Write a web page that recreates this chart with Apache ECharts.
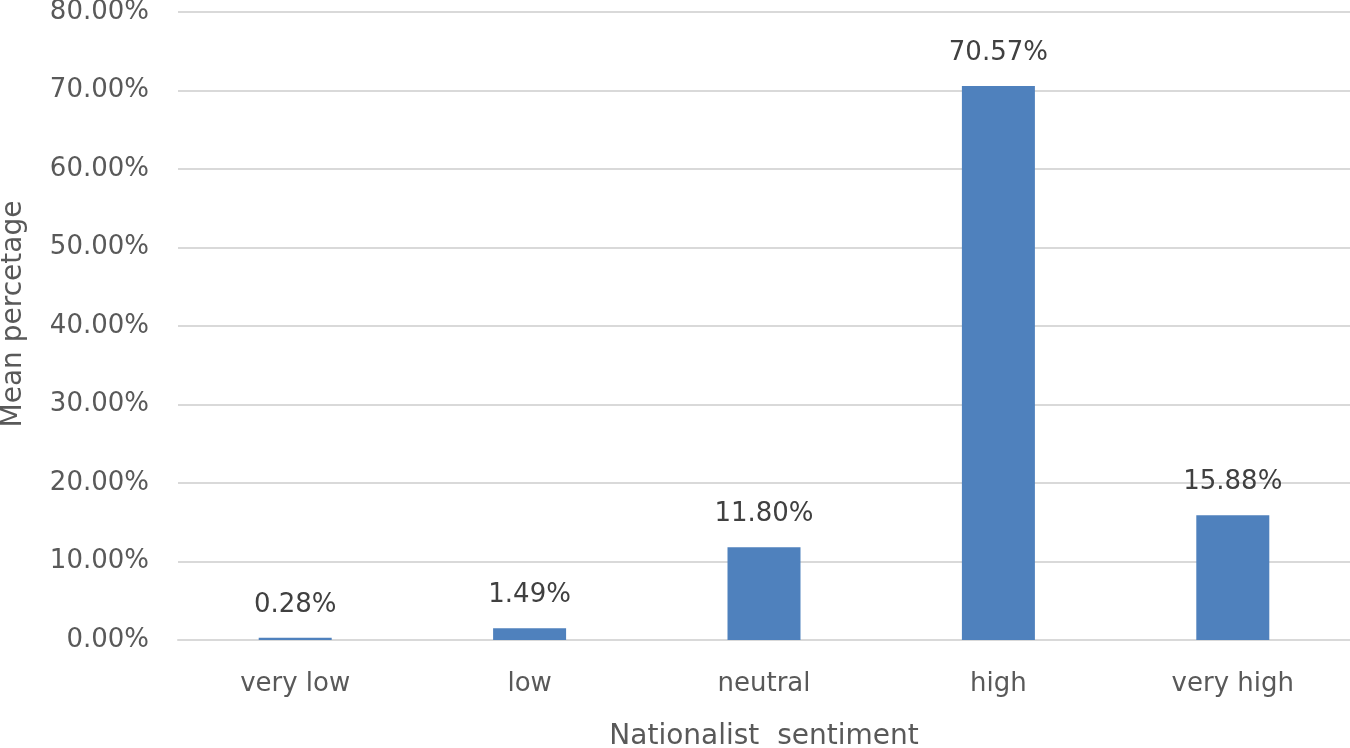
<!DOCTYPE html>
<html>
<head>
<meta charset="utf-8">
<script src="https://cdn.jsdelivr.net/npm/echarts@6/dist/echarts.min.js"></script>
<style>
html,body{margin:0;padding:0;background:#fff;}
#chart{width:1350px;height:748px;}
</style>
</head>
<body>
<div id="chart"></div>
<script>
const categories = ['very low', 'low', 'neutral', 'high', 'very high'];
const meanPercentage = [0.28, 1.49, 11.80, 70.57, 15.88];
const xAxisTitle = 'Nationalist  sentiment';
const yAxisTitle = 'Mean percetage';

const FONT = '"DejaVu Sans", "Open Sans", sans-serif';
const chart = echarts.init(document.getElementById('chart'), null, {renderer: 'canvas'});
chart.setOption({
  animation: false,
  backgroundColor: '#ffffff',
  grid: {left: 178, right: 0, top: 12, bottom: 108, containLabel: false, outerBoundsMode: 'none'},
  xAxis: {
    type: 'category',
    data: categories,
    name: xAxisTitle,
    nameLocation: 'middle',
    nameGap: 83,
    nameTextStyle: {color: '#595959', fontSize: 28, fontFamily: FONT},
    axisLine: {show: true, lineStyle: {color: '#d9d9d9', width: 2}},
    axisTick: {show: false},
    axisLabel: {color: '#595959', fontSize: 26, fontFamily: FONT, margin: 31}
  },
  yAxis: {
    type: 'value',
    min: 0, max: 80, interval: 10,
    name: yAxisTitle,
    nameLocation: 'middle',
    nameGap: 150,
    nameRotate: 90,
    nameTextStyle: {color: '#595959', fontSize: 28, fontFamily: FONT, padding: [0, 0, 0, 24]},
    axisLine: {show: false},
    axisTick: {show: false},
    splitLine: {show: true, lineStyle: {color: '#d9d9d9', width: 2}},
    axisLabel: {
      color: '#595959', fontSize: 26, fontFamily: FONT, margin: 29,
      formatter: v => v.toFixed(2) + '%'
    }
  },
  series: [{
    type: 'bar',
    data: meanPercentage,
    barWidth: 73,
    itemStyle: {color: '#4f81bd'},
    label: {
      show: true, position: 'top', distance: 20,
      color: '#404040', fontSize: 26, fontFamily: FONT,
      formatter: p => p.value.toFixed(2) + '%'
    }
  }]
});
</script>
</body>
</html>
